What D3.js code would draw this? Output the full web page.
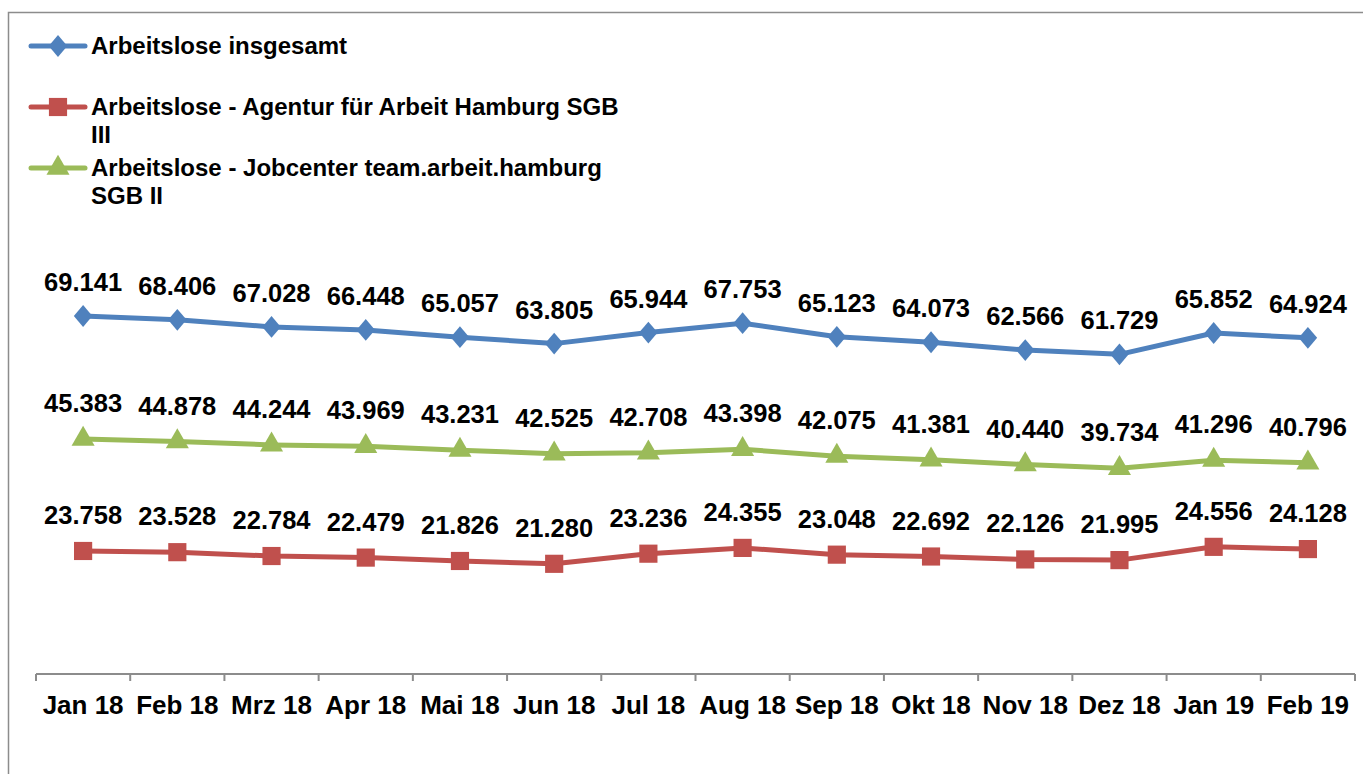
<!DOCTYPE html>
<html><head><meta charset="utf-8">
<script src="https://cdn.jsdelivr.net/npm/d3@7"></script>
<style>body{margin:0;background:#fff}svg{display:block}text{font-family:"Liberation Sans",Arial,sans-serif;font-weight:bold;fill:#000}</style>
</head><body>
<script>
const categories = ["Jan 18","Feb 18","Mrz 18","Apr 18","Mai 18","Jun 18","Jul 18","Aug 18","Sep 18","Okt 18","Nov 18","Dez 18","Jan 19","Feb 19"];
const insgesamt = [69.141,68.406,67.028,66.448,65.057,63.805,65.944,67.753,65.123,64.073,62.566,61.729,65.852,64.924];
const sgb3 = [23.758,23.528,22.784,22.479,21.826,21.280,23.236,24.355,23.048,22.692,22.126,21.995,24.556,24.128];
const sgb2 = [45.383,44.878,44.244,43.969,43.231,42.525,42.708,43.398,42.075,41.381,40.440,39.734,41.296,40.796];
const seriesNames = [["Arbeitslose insgesamt"],["Arbeitslose - Agentur für Arbeit Hamburg SGB","III"],["Arbeitslose - Jobcenter team.arbeit.hamburg","SGB II"]];

const W=1363,H=774;
const svg=d3.select("body").append("svg").attr("width",W).attr("height",H);
svg.append("rect").attr("x",8.5).attr("y",12.5).attr("width",1500).attr("height",900).attr("fill","none").attr("stroke","#8c8c8c").attr("stroke-width",1.5);

const x=d3.scaleBand().domain(categories).range([36,1355]);
const y=d3.scaleLinear().domain([0,80]).range([674,674-80*5.178]);

// axis
const ax=svg.append("g").attr("transform","translate(0,674)");
ax.append("line").attr("x1",36).attr("x2",1355).attr("stroke","#8c8c8c").attr("stroke-width",2);
const bounds=categories.map(c=>x(c)).concat([x.range()[1]]);
ax.selectAll("line.t").data(bounds).join("line").attr("class","t").attr("x1",d=>d).attr("x2",d=>d).attr("y1",0).attr("y2",7).attr("stroke","#8c8c8c").attr("stroke-width",2);
ax.selectAll("text").data(categories).join("text").attr("x",d=>x(d)+x.bandwidth()/2).attr("y",40).attr("text-anchor","middle").attr("font-size",26).text(d=>d);

const series=[
 {vals:insgesamt,color:"#4F81BD",sym:d3.symbolDiamond,size:190,off:25},
 {vals:sgb3,color:"#C0504D",sym:d3.symbolSquare,size:330,off:27},
 {vals:sgb2,color:"#9BBB59",sym:d3.symbolTriangle,size:230,off:27}
];
const cx=c=>x(c)+x.bandwidth()/2;
series.forEach(s=>{
  const g=svg.append("g");
  g.append("path").datum(s.vals).attr("fill","none").attr("stroke",s.color).attr("stroke-width",5).attr("stroke-linejoin","round")
   .attr("d",d3.line().x((d,i)=>cx(categories[i])).y(d=>y(d)));
  g.selectAll("path.m").data(s.vals).join("path").attr("class","m").attr("fill",s.color)
   .attr("transform",(d,i)=>`translate(${cx(categories[i])},${y(d)})`+(s.sym===d3.symbolDiamond?" scale(1.25,0.85)":""))
   .attr("d",d3.symbol(s.sym,s.size)());
  g.selectAll("text").data(s.vals).join("text").attr("x",(d,i)=>cx(categories[i])).attr("y",d=>y(d)-s.off)
   .attr("text-anchor","middle").attr("font-size",25.5).text(d=>d3.format(".3f")(d));
});

// legend
const legY=[46,107,168];
series.forEach((s,i)=>{
  const g=svg.append("g");
  g.append("line").attr("x1",31).attr("x2",85).attr("y1",legY[i]).attr("y2",legY[i]).attr("stroke",s.color).attr("stroke-width",5).attr("stroke-linecap","round");
  g.append("path").attr("fill",s.color).attr("transform",`translate(58,${legY[i]})`+(s.sym===d3.symbolDiamond?" scale(1.25,0.85)":""))
   .attr("d",d3.symbol(s.sym,s.size)());
  seriesNames[i].forEach((t,j)=>{
    g.append("text").attr("x",91).attr("y",legY[i]+8+j*28).attr("font-size",24).text(t);
  });
});
</script>
</body></html>
